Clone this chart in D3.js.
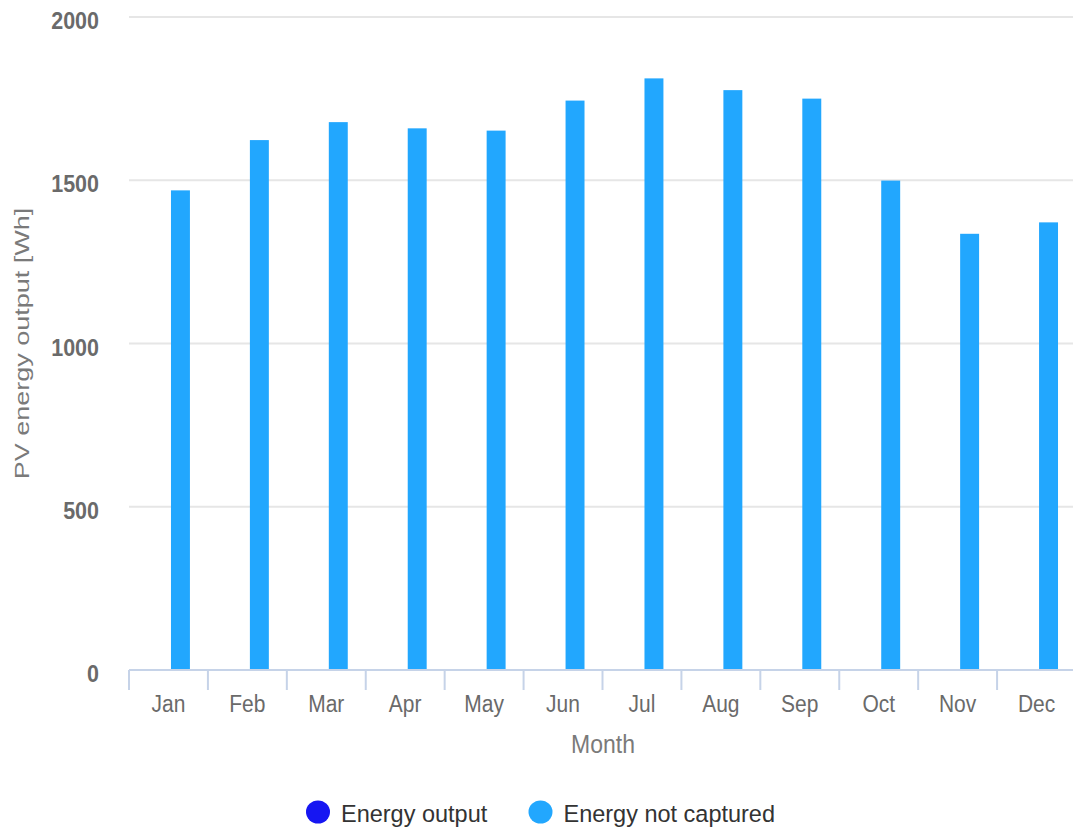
<!DOCTYPE html>
<html>
<head>
<meta charset="utf-8">
<script src="https://cdn.jsdelivr.net/npm/d3@7"></script>
<style>
  html, body { margin: 0; padding: 0; background: #fff; }
  svg { display: block; font-family: "Liberation Sans", Arial, sans-serif; }
</style>
</head>
<body>
<svg id="chart" width="1073" height="833"></svg>
<script>
// data
const months = ['Jan', 'Feb', 'Mar', 'Apr', 'May', 'Jun', 'Jul', 'Aug', 'Sep', 'Oct', 'Nov', 'Dec'];
const energyOutput = [0, 0, 0, 0, 0, 0, 0, 0, 0, 0, 0, 0];
const energyNotCaptured = [1469, 1623, 1678, 1659, 1652, 1744, 1812, 1776, 1750, 1499, 1336, 1371];
const yTicks = [0, 500, 1000, 1500, 2000];
const seriesNames = ['Energy output', 'Energy not captured'];
const seriesColors = ['#1616f2', '#22a7fe'];

const svg = d3.select('#chart');
const margin = { top: 17, left: 129, right: -3, bottom: 163 };
const W = 1073, H = 833;
const stretch = 1.12; // the source picture looks a bit taller than wide

const x = d3.scaleBand()
    .domain(months)
    .range([margin.left, W - margin.right]);

const y = d3.scaleLinear()
    .domain([0, 2000])
    .range([H - margin.bottom, margin.top]);

// two series grouped per month, only the second one has values
const x1 = d3.scaleBand()
    .domain(seriesNames)
    .range([0, x.bandwidth()])
    .paddingInner(0.21)
    .paddingOuter(0.75);

// helper: text drawn at (tx, ty) with a vertical stretch
function label(sel, tx, ty, sy) {
    return sel.append('g')
        .attr('transform', `translate(${tx},${ty}) scale(1,${sy})`)
        .append('text');
}

// gridlines
svg.append('g')
    .selectAll('line')
    .data(yTicks.filter(d => d > 0))
    .join('line')
    .attr('x1', margin.left)
    .attr('x2', W)
    .attr('y1', d => y(d))
    .attr('y2', d => y(d))
    .attr('stroke', '#e6e6e6')
    .attr('stroke-width', 2);

// y labels
const yLab = svg.append('g');
yTicks.forEach(t => {
    label(yLab, 99, y(t) + 12, stretch)
        .attr('text-anchor', 'end')
        .attr('font-size', 21.5)
        .attr('font-weight', 'bold')
        .attr('fill', '#6a6a6a')
        .text(t);
});

// bars
const rows = months.map((m, i) => ({ month: m, values: [energyOutput[i], energyNotCaptured[i]] }));

svg.append('g')
    .selectAll('g')
    .data(rows)
    .join('g')
    .attr('transform', d => `translate(${x(d.month)},0)`)
    .selectAll('rect')
    .data(d => d.values.map((v, k) => ({ key: seriesNames[k], value: v, color: seriesColors[k] })))
    .join('rect')
    .attr('x', d => x1(d.key))
    .attr('width', x1.bandwidth())
    .attr('y', d => y(d.value))
    .attr('height', d => y(0) - y(d.value))
    .attr('fill', d => d.color);

// x axis line + ticks
const xAxisG = svg.append('g');
xAxisG.append('line')
    .attr('x1', margin.left)
    .attr('x2', W)
    .attr('y1', y(0))
    .attr('y2', y(0))
    .attr('stroke', '#c6d3e8')
    .attr('stroke-width', 2);

xAxisG.selectAll('.tick')
    .data(months)
    .join('line')
    .attr('class', 'tick')
    .attr('x1', d => x(d))
    .attr('x2', d => x(d))
    .attr('y1', y(0))
    .attr('y2', y(0) + 20)
    .attr('stroke', '#c6d3e8')
    .attr('stroke-width', 2);

months.forEach(m => {
    label(xAxisG, x(m) + x.bandwidth() / 2, y(0) + 42, stretch)
        .attr('text-anchor', 'middle')
        .attr('font-size', 21)
        .attr('fill', '#6a6a6a')
        .text(m);
});

// axis titles
label(svg, 603, 753, stretch)
    .attr('text-anchor', 'middle')
    .attr('font-size', 23)
    .attr('fill', '#7a7a7a')
    .text('Month');

svg.append('g')
    .attr('transform', `translate(29, ${(y(0) + y(2000)) / 2}) rotate(-90) scale(1.35,1)`)
    .append('text')
    .attr('text-anchor', 'middle')
    .attr('font-size', 20)
    .attr('fill', '#7a7a7a')
    .text('PV energy output [Wh]');

// legend
const legendX = [318, 540.5];
const legend = svg.append('g')
    .selectAll('g')
    .data(seriesNames)
    .join('g')
    .attr('transform', (d, i) => `translate(${legendX[i]}, 812)`);

legend.append('ellipse')
    .attr('rx', 12)
    .attr('ry', 11.5)
    .attr('fill', (d, i) => seriesColors[i]);

legend.append('g')
    .attr('transform', 'translate(23, 3) scale(1,1.05)')
    .append('text')
    .attr('y', 0)
    .attr('dominant-baseline', 'middle')
    .attr('font-size', 23.5)
    .attr('fill', '#333')
    .text(d => d);
</script>
</body>
</html>
